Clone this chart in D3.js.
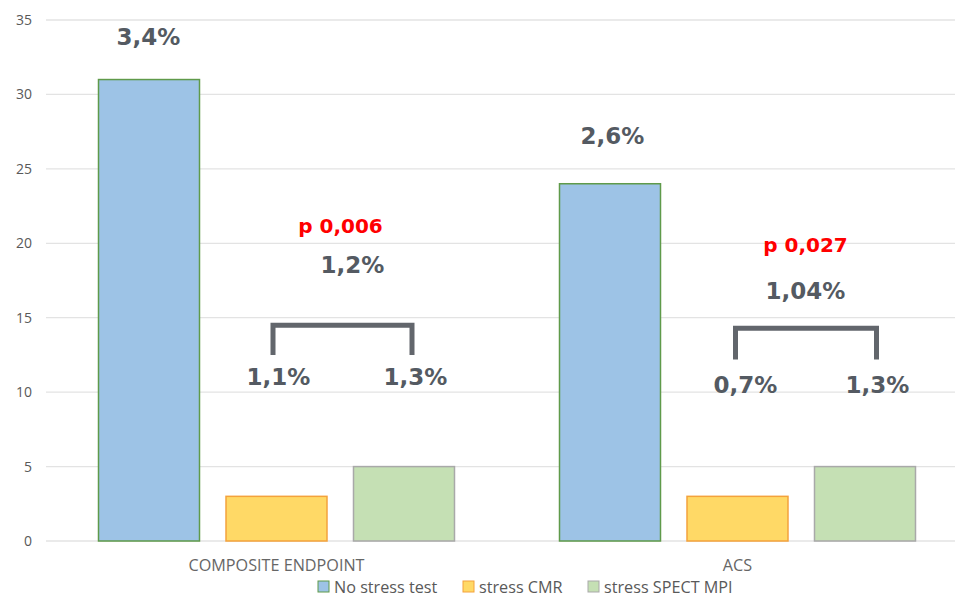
<!DOCTYPE html>
<html>
<head>
<meta charset="utf-8">
<script src="https://cdn.jsdelivr.net/npm/d3@7"></script>
<style>
  html, body { margin: 0; padding: 0; background: #fff; }
  svg { display: block; }
</style>
</head>
<body>
<svg id="chart" width="955" height="596"></svg>
<script>
// ---- data ----
const categories = ["COMPOSITE ENDPOINT", "ACS"];
const seriesNames = ["No stress test", "stress CMR", "stress SPECT MPI"];
const noStress = [31, 24];
const stressCMR = [3, 3];
const stressSPECT = [5, 5];
const yTicks = [0, 5, 10, 15, 20, 25, 30, 35];

// annotation labels: text, category index, horizontal offset from group centre, y value
const labelTexts = ["3,4%", "p 0,006", "1,2%", "1,1%", "1,3%", "2,6%", "p 0,027", "1,04%", "0,7%", "1,3%"];
const labelCats  = [0, 0, 0, 0, 0, 1, 1, 1, 1, 1];
const labelDx    = [-128, 64, 76, 2, 139, -125, 68, 68, 8, 140];
const labelY     = [33.3, 20.7, 18.0, 10.5, 10.5, 26.7, 19.4, 16.25, 9.94, 9.94];
const labelRed   = [false, true, false, false, false, false, true, false, false, false];

// brackets: category, left/right offset from group centre, top/bottom y values
const bracketCats = [0, 1];
const bracketL = [-3.5, -2];
const bracketR = [135.5, 139];
const bracketTop = [14.5, 14.3];
const bracketBot = [12.5, 12.2];

const values = [noStress, stressCMR, stressSPECT];
const fills = ["#9dc3e6", "#ffd966", "#c5e0b4"];
const strokes = ["#5f9a4a", "#f4a23c", "#a9a9a9"];

// ---- layout ----
const svg = d3.select("#chart");
const W = 955, H = 596;
const plotL = 46, plotR = 968;

const y = d3.scaleLinear().domain([0, 35]).range([541, 20]);
const x0 = d3.scaleBand().domain(categories).range([plotL, plotR])
  .paddingInner(0.2256).paddingOuter(0.1128);
const x1 = d3.scaleBand().domain(seriesNames).range([0, x0.bandwidth()]).paddingInner(0.2);

// gridlines
svg.append("g").selectAll("line").data(yTicks).join("line")
  .attr("x1", plotL).attr("x2", W)
  .attr("y1", d => y(d)).attr("y2", d => y(d))
  .attr("stroke", "#e3e3e3").attr("stroke-width", 1.3);

// y axis labels
const yAxis = d3.axisLeft(y).tickValues(yTicks).tickSize(0).tickPadding(0);
const ya = svg.append("g").attr("transform", "translate(32,0)").call(yAxis);
ya.select(".domain").remove();
ya.selectAll("text").attr("font-family", "'Open Sans', sans-serif")
  .attr("font-size", 14).attr("fill", "#595959");

// bars
categories.forEach((cat, ci) => {
  const g = svg.append("g").attr("transform", `translate(${x0(cat)},0)`);
  seriesNames.forEach((s, si) => {
    g.append("rect")
      .attr("x", x1(s) + 0.5)
      .attr("y", y(values[si][ci]))
      .attr("width", x1.bandwidth() - 1)
      .attr("height", y(0) - y(values[si][ci]))
      .attr("fill", fills[si])
      .attr("stroke", strokes[si])
      .attr("stroke-width", 1.5);
  });
});

// category labels
const xAxis = d3.axisBottom(x0).tickSize(0).tickPadding(0);
const xa = svg.append("g").attr("transform", "translate(0,559)").call(xAxis);
xa.select(".domain").remove();
xa.selectAll("text").attr("font-family", "'Open Sans', sans-serif")
  .attr("font-size", 16.2).attr("fill", "#666666");

// brackets
bracketCats.forEach((ci, i) => {
  const cx = x0(categories[ci]) + x0.bandwidth() / 2;
  const xl = cx + bracketL[i], xr = cx + bracketR[i];
  svg.append("path")
    .attr("d", `M${xl},${y(bracketBot[i])}V${y(bracketTop[i])}H${xr}V${y(bracketBot[i])}`)
    .attr("fill", "none").attr("stroke", "#62666c").attr("stroke-width", 5);
});

// annotation labels
labelTexts.forEach((t, i) => {
  const cx = x0(categories[labelCats[i]]) + x0.bandwidth() / 2;
  svg.append("text")
    .attr("x", cx + labelDx[i]).attr("y", y(labelY[i]))
    .attr("text-anchor", "middle")
    .attr("font-family", "'DejaVu Sans', sans-serif")
    .attr("font-weight", "bold")
    .attr("font-size", labelRed[i] ? 20 : 23)
    .attr("fill", labelRed[i] ? "#ff0000" : "#545a62")
    .text(t);
});

// legend
const legX = [318, 463, 588];
const lg = svg.append("g");
seriesNames.forEach((s, si) => {
  lg.append("rect").attr("x", legX[si]).attr("y", 581).attr("width", 11).attr("height", 11)
    .attr("fill", fills[si]).attr("stroke", strokes[si]).attr("stroke-width", 1);
  lg.append("text").attr("x", legX[si] + 16).attr("y", 592.5)
    .attr("font-family", "'Open Sans', sans-serif").attr("font-size", 16.2)
    .attr("fill", "#595959").text(s);
});
</script>
</body>
</html>
